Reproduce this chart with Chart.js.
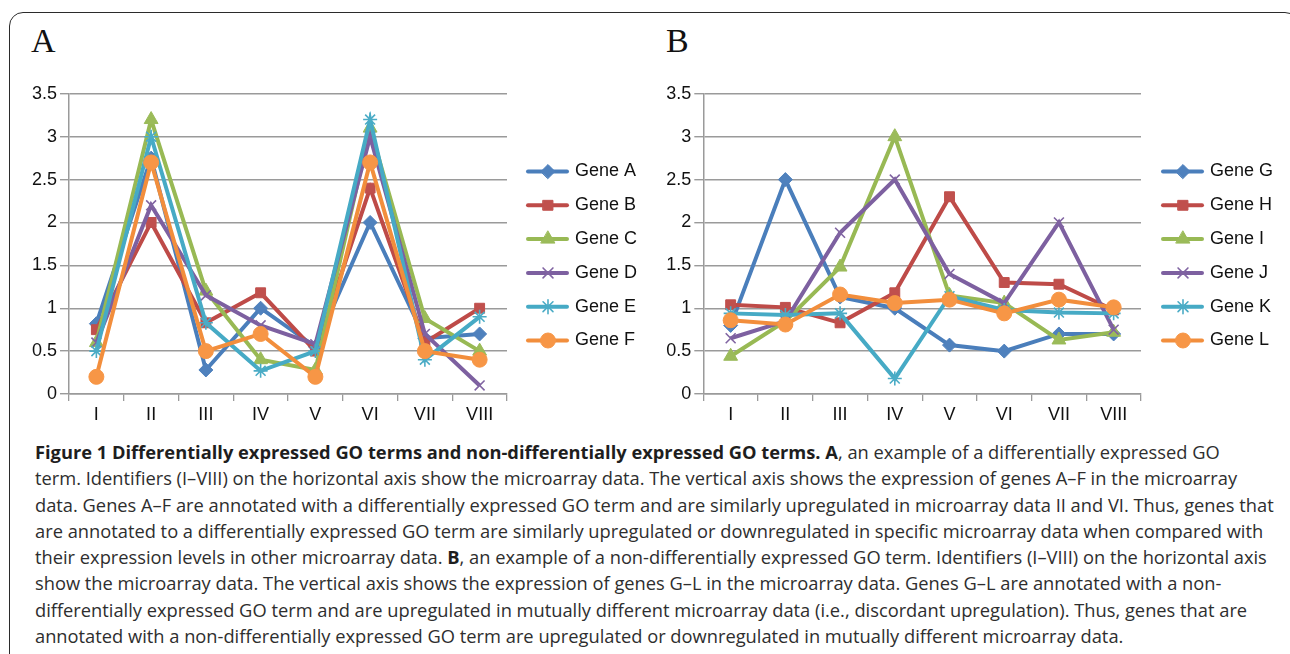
<!DOCTYPE html>
<html>
<head>
<meta charset="utf-8">
<script src="https://cdn.jsdelivr.net/npm/chart.js@4.4.0/dist/chart.umd.min.js"></script>
<style>
  html, body { margin: 0; padding: 0; background: #fff; }
  body { width: 1290px; height: 654px; position: relative; overflow: hidden; }
  #frame {
    position: absolute; left: 9px; top: 12px; width: 1290px; height: 700px;
    border: 1.5px solid #2b2b2b; border-radius: 14px; box-sizing: border-box;
  }
  .panel-label {
    position: absolute; top: 22px; font-family: "Liberation Serif", "DejaVu Serif", serif;
    font-size: 34px; color: #111;
  }
  canvas { position: absolute; top: 80px; }
  #caption {
    position: absolute; left: 35px; top: 439px; white-space: nowrap;
    font-family: "Open Sans", "Noto Sans", sans-serif; font-size: 18.3px;
    line-height: 26.3px; color: #2e2e2e;
  }
  #caption b { color: #1e1e1e; }
</style>
</head>
<body>
<div id="frame"></div>
<div class="panel-label" style="left:31px">A</div>
<div class="panel-label" style="left:666px">B</div>
<canvas id="chartA" width="645" height="345" style="left:0px"></canvas>
<canvas id="chartB" width="650" height="345" style="left:640px"></canvas>
<div id="caption">
<b>Figure 1 Differentially expressed GO terms and non-differentially expressed GO terms. A</b>, an example of a differentially expressed GO<br>
term. Identifiers (I–VIII) on the horizontal axis show the microarray data. The vertical axis shows the expression of genes A–F in the microarray<br>
data. Genes A–F are annotated with a differentially expressed GO term and are similarly upregulated in microarray data II and VI. Thus, genes that<br>
are annotated to a differentially expressed GO term are similarly upregulated or downregulated in specific microarray data when compared with<br>
their expression levels in other microarray data. <b>B</b>, an example of a non-differentially expressed GO term. Identifiers (I–VIII) on the horizontal axis<br>
show the microarray data. The vertical axis shows the expression of genes G–L in the microarray data. Genes G–L are annotated with a non-<br>
differentially expressed GO term and are upregulated in mutually different microarray data (i.e., discordant upregulation). Thus, genes that are<br>
annotated with a non-differentially expressed GO term are upregulated or downregulated in mutually different microarray data.
</div>
<script>
const categories = ["I", "II", "III", "IV", "V", "VI", "VII", "VIII"];
const yTicks = [0, 0.5, 1, 1.5, 2, 2.5, 3, 3.5];

// Panel A - differentially expressed GO term
const namesA = ["Gene A", "Gene B", "Gene C", "Gene D", "Gene E", "Gene F"];
const geneA = [0.82, 2.75, 0.28, 1.0, 0.55, 2.0, 0.65, 0.7];
const geneB = [0.75, 2.0, 0.83, 1.18, 0.5, 2.4, 0.6, 1.0];
const geneC = [0.6, 3.2, 1.2, 0.4, 0.28, 3.1, 0.88, 0.5];
const geneD = [0.6, 2.2, 1.15, 0.8, 0.58, 3.0, 0.7, 0.1];
const geneE = [0.5, 3.0, 0.83, 0.27, 0.5, 3.2, 0.4, 0.9];
const geneF = [0.2, 2.7, 0.5, 0.7, 0.2, 2.7, 0.5, 0.4];

// Panel B - non-differentially expressed GO term
const namesB = ["Gene G", "Gene H", "Gene I", "Gene J", "Gene K", "Gene L"];
const geneG = [0.8, 2.5, 1.13, 1.0, 0.57, 0.5, 0.7, 0.7];
const geneH = [1.04, 1.01, 0.83, 1.18, 2.3, 1.3, 1.28, 0.98];
const geneI = [0.44, 0.85, 1.48, 3.0, 1.15, 1.06, 0.63, 0.72];
const geneJ = [0.65, 0.85, 1.88, 2.5, 1.4, 1.06, 2.0, 0.75];
const geneK = [0.94, 0.92, 0.94, 0.18, 1.14, 0.98, 0.95, 0.94];
const geneL = [0.86, 0.81, 1.16, 1.06, 1.1, 0.94, 1.1, 1.01];

const lineColors = ["#4a7ebb", "#be4b48", "#98b954", "#7d60a0", "#46aac5", "#f28e3c"];
const markerColors = ["#4f81bd", "#c0504d", "#9bbb59", "#8064a2", "#4bacc6", "#f79646"];
const markerStyles = ["rectRot", "rect", "triangle", "crossRot", "star", "circle"];
const markerSizes = [7, 7, 8, 7, 7, 7.5];
const markerBorders = [1, 1, 1, 1.6, 1.6, 1];

function makeDatasets(names, series) {
  return series.map((values, i) => ({
    label: names[i],
    data: values,
    borderColor: lineColors[i],
    backgroundColor: markerColors[i],
    borderWidth: 4,
    pointStyle: markerStyles[i],
    pointRadius: markerSizes[i],
    pointBorderColor: markerColors[i],
    pointBackgroundColor: markerColors[i],
    pointBorderWidth: markerBorders[i],
    tension: 0,
    order: series.length - i,
  }));
}

// Excel-style legend: short line with marker in the middle
const sideLegend = {
  id: "sideLegend",
  afterDraw(chart, args, opts) {
    const ctx = chart.ctx;
    chart.data.datasets.forEach((ds, i) => {
      const y = opts.top + i * opts.gap;
      ctx.save();
      ctx.strokeStyle = ds.borderColor;
      ctx.lineWidth = 4;
      ctx.lineCap = "round";
      ctx.beginPath();
      ctx.moveTo(opts.lineStart, y);
      ctx.lineTo(opts.lineStart + 39, y);
      ctx.stroke();
      ctx.fillStyle = ds.pointBackgroundColor;
      ctx.strokeStyle = ds.pointBorderColor;
      ctx.lineWidth = ds.pointBorderWidth;
      Chart.helpers.drawPoint(ctx, {
        pointStyle: ds.pointStyle,
        radius: ds.pointRadius,
        borderWidth: ds.pointBorderWidth,
        rotation: 0,
      }, opts.lineStart + 20, y);
      ctx.fillStyle = "#111";
      ctx.font = '18px "Liberation Sans", Arial, sans-serif';
      ctx.textBaseline = "middle";
      ctx.fillText(ds.label, opts.textStart, y);
      ctx.restore();
    });
  },
};

function makeChart(id, names, series, yAxisWidth, rightPad, legendOpts) {
  return new Chart(document.getElementById(id), {
    type: "line",
    data: { labels: categories, datasets: makeDatasets(names, series) },
    plugins: [sideLegend],
    options: {
      responsive: false,
      animation: false,
      devicePixelRatio: 1,
      layout: { padding: { top: 11.7, right: rightPad, left: 0, bottom: 0 } },
      plugins: {
        legend: { display: false },
        tooltip: { enabled: false },
        sideLegend: legendOpts,
      },
      scales: {
        x: {
          offset: true,
          grid: {
            offset: true,
            drawOnChartArea: false,
            drawTicks: true,
            tickLength: 7,
            color: "#9a9a9a",
            lineWidth: 1.3,
          },
          border: { color: "#9a9a9a", width: 1.5 },
          ticks: {
            color: "#111",
            padding: 3,
            font: { family: '"Liberation Sans", Arial, sans-serif', size: 18 },
          },
          afterFit(scale) { scale.height = 31; },
        },
        y: {
          min: 0,
          max: 3.5,
          afterBuildTicks(scale) { scale.ticks = yTicks.map((v) => ({ value: v })); },
          grid: { color: "#9a9a9a", lineWidth: 1.4, tickLength: 9 },
          border: { color: "#9a9a9a", width: 1.5 },
          ticks: {
            color: "#111",
            padding: 3,
            font: { family: '"Liberation Sans", Arial, sans-serif', size: 18 },
            callback: (v) => String(v),
          },
          afterFit(scale) { scale.width = yAxisWidth; },
        },
      },
    },
  });
}

makeChart("chartA", namesA, [geneA, geneB, geneC, geneD, geneE, geneF], 69, 138,
  { top: 91.5, gap: 33.8, lineStart: 528, textStart: 575 });
makeChart("chartB", namesB, [geneG, geneH, geneI, geneJ, geneK, geneL], 63.3, 149,
  { top: 91.5, gap: 33.8, lineStart: 523, textStart: 570 });
</script>
</body>
</html>
